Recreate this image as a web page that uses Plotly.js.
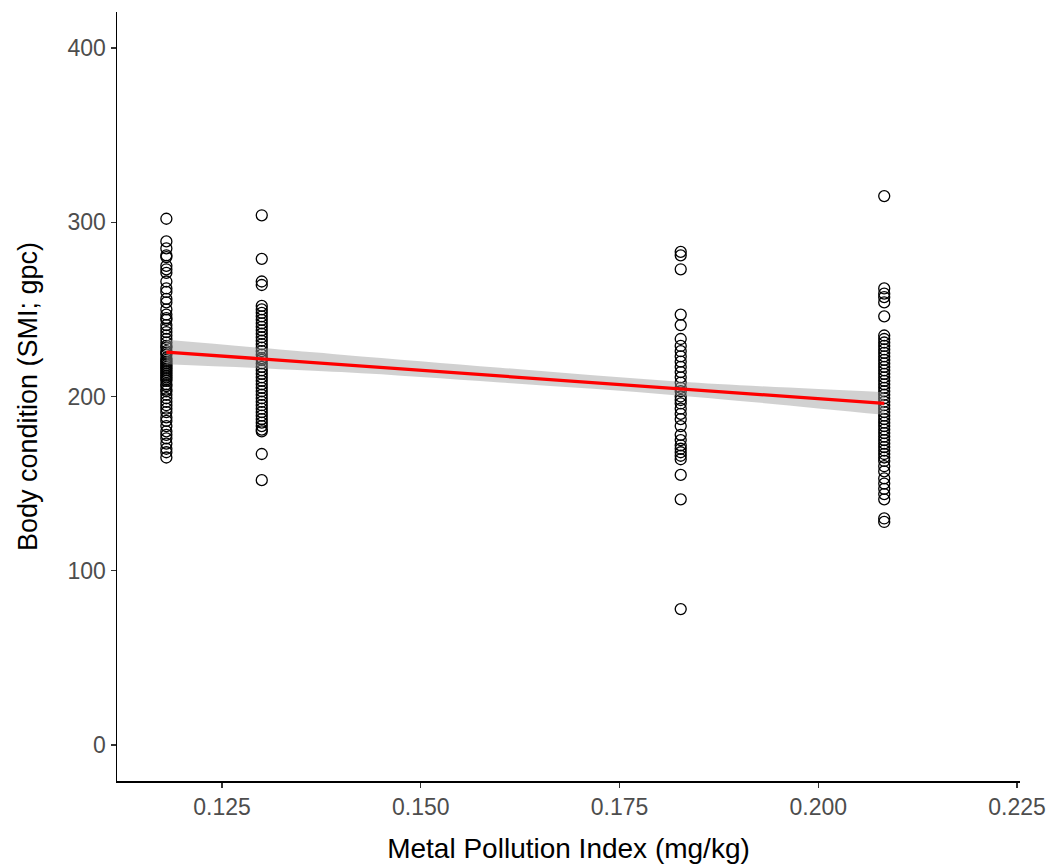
<!DOCTYPE html>
<html>
<head>
<meta charset="utf-8">
<script src="https://cdn.plot.ly/plotly-3.0.1.min.js"></script>
<style>html,body{margin:0;padding:0;background:#fff;}#chart{width:1054px;height:867px;}</style>
</head>
<body>
<div id="chart"></div>
<script>
// Metal Pollution Index sites (mg/kg)
const siteA = 0.118, siteB = 0.130, siteC = 0.1827, siteD = 0.2083;
// Body condition values (SMI; gpc) per site
const smiA = [302, 289, 285, 281, 280, 275, 273, 271, 266, 262, 260, 256, 254, 250, 247, 245, 244, 241, 239, 237, 235, 233, 231, 229, 228, 226, 225, 224, 222, 221, 220, 219, 218, 217, 216, 215, 214, 213, 212, 211, 210, 209, 207, 206, 204, 203, 201, 199, 197, 195, 193, 191, 188, 186, 183, 180, 178, 176, 173, 170, 168, 165];
const smiB = [304, 279, 266, 264, 252, 250, 248, 246, 244, 242, 240, 238, 236, 234, 232, 230, 228, 226, 224, 222, 221, 219, 217, 215, 213, 211, 209, 207, 205, 203, 201, 199, 197, 195, 193, 191, 189, 187, 185, 183, 181, 180, 167, 152];
const smiC = [283, 281, 273, 247, 241, 233, 229, 226, 223, 220, 217, 214, 211, 208, 205, 203, 200, 198, 196, 193, 190, 187, 183, 178, 175, 172, 170, 168, 166, 164, 155, 141, 78];
const smiD = [315, 262, 259, 257, 254, 246, 235, 233, 231, 229, 227, 225, 223, 221, 219, 217, 215, 213, 211, 209, 207, 205, 203, 201, 199, 197, 195, 193, 191, 189, 187, 185, 183, 181, 179, 177, 175, 173, 171, 169, 167, 165, 163, 160, 157, 153, 150, 147, 144, 141, 130, 128];
// Linear fit and confidence band
const fitX = [0.118, 0.2083];
const fitY = [225.5, 196];
const bandX = [0.118, 0.140, 0.160, 0.1827, 0.2083];
const bandLow = [218.5, 214, 208, 200.5, 189.5];
const bandHigh = [232.5, 224, 216.5, 208.5, 202.5];
const xTicks = [0.125, 0.150, 0.175, 0.200, 0.225];
const xTickText = ['0.125', '0.150', '0.175', '0.200', '0.225'];
const yTicks = [0, 100, 200, 300, 400];

const px = [], py = [];
[[siteA, smiA], [siteB, smiB], [siteC, smiC], [siteD, smiD]].forEach(([s, arr]) => {
  arr.forEach(v => { px.push(s); py.push(v); });
});

const traces = [
  {x: px, y: py, type: 'scatter', mode: 'markers',
   marker: {symbol: 'circle-open', size: 11, color: '#000', line: {width: 1.3, color: '#000'}},
   hoverinfo: 'skip', showlegend: false},
  {x: bandX, y: bandLow, type: 'scatter', mode: 'lines', line: {width: 0, shape: 'spline'},
   hoverinfo: 'skip', showlegend: false},
  {x: bandX, y: bandHigh, type: 'scatter', mode: 'lines', line: {width: 0, shape: 'spline'},
   fill: 'tonexty', fillcolor: 'rgba(153,153,153,0.45)', hoverinfo: 'skip', showlegend: false},
  {x: fitX, y: fitY, type: 'scatter', mode: 'lines', line: {color: '#ff0000', width: 3.3},
   hoverinfo: 'skip', showlegend: false}
];

const fontFam = 'Liberation Sans, Arial, sans-serif';
const layout = {
  width: 1054, height: 867,
  margin: {l: 117, r: 34, t: 12, b: 86},
  paper_bgcolor: '#fff', plot_bgcolor: '#fff',
  showlegend: false,
  xaxis: {
    range: [0.11179, 0.22538], tickvals: xTicks, ticktext: xTickText,
    showgrid: false, zeroline: false, showline: true, linecolor: '#000', linewidth: 1.5,
    ticks: 'outside', ticklen: 5, tickcolor: '#333', tickwidth: 1.2,
    tickfont: {family: fontFam, size: 23, color: '#4d4d4d'},
    title: {text: 'Metal Pollution Index (mg/kg)', font: {family: fontFam, size: 28, color: '#000'}, standoff: 19}
  },
  yaxis: {
    range: [-20.66, 420.66], tickvals: yTicks,
    showgrid: false, zeroline: false, showline: true, linecolor: '#000', linewidth: 1.5,
    ticks: 'outside', ticklen: 5, tickcolor: '#333', tickwidth: 1.2,
    tickfont: {family: fontFam, size: 23, color: '#4d4d4d'},
    title: {text: 'Body condition (SMI; gpc)', font: {family: fontFam, size: 27, color: '#000'}, standoff: 22}
  }
};
Plotly.newPlot('chart', traces, layout, {displayModeBar: false, staticPlot: true});
</script>
</body>
</html>
